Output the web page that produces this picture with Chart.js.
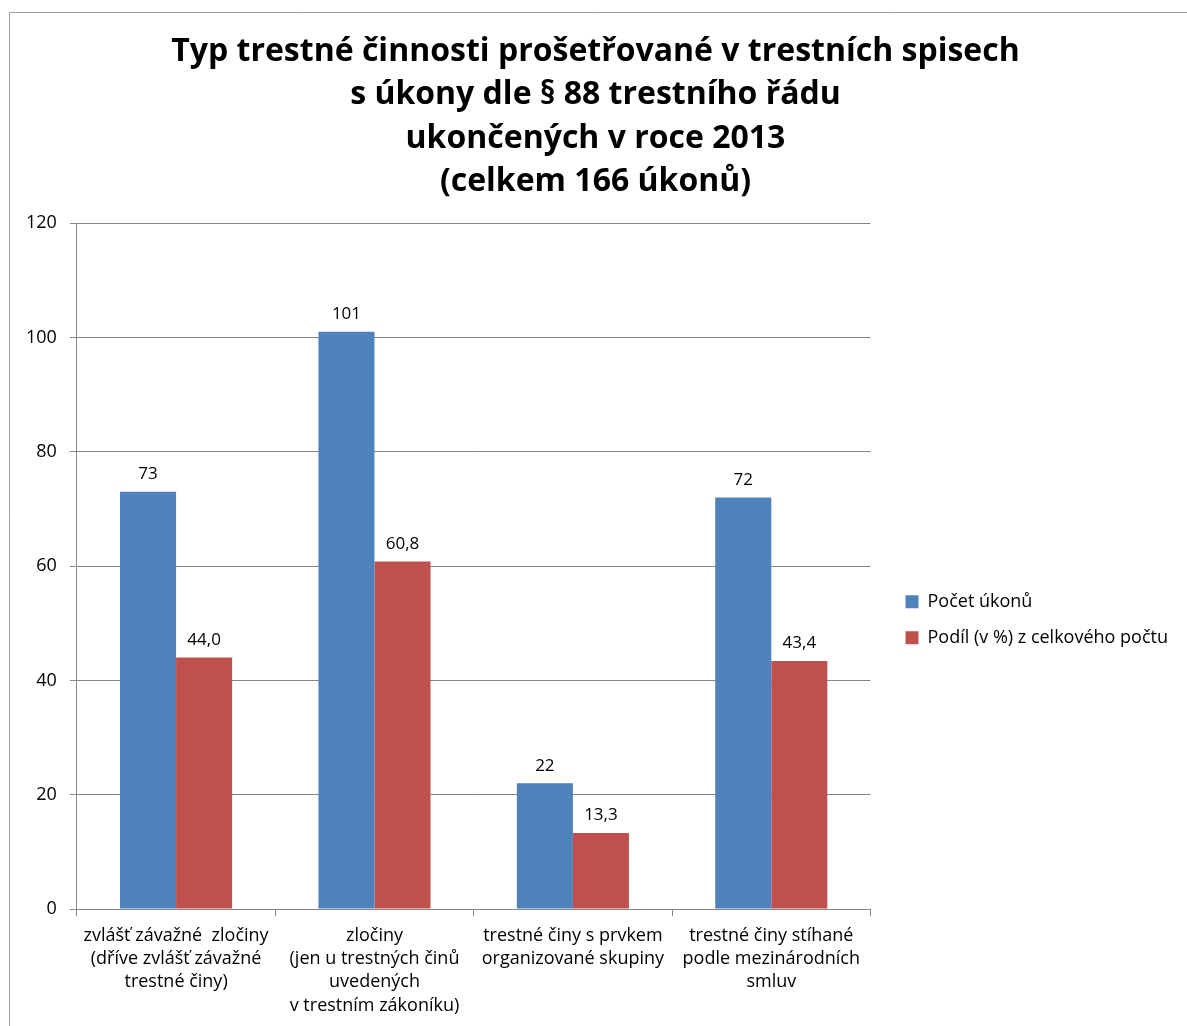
<!DOCTYPE html>
<html>
<head>
<meta charset="utf-8">
<script src="https://cdn.jsdelivr.net/npm/chart.js@4.4.1/dist/chart.umd.min.js"></script>
<style>
  html, body { margin: 0; padding: 0; background: #fff; }
  #wrap { width: 1187px; height: 1026px; position: relative; }
</style>
</head>
<body>
<div id="wrap"><canvas id="chart"></canvas></div>
<script>
const categories = [
    ['zvlášť závažné  zločiny', '(dříve zvlášť závažné', 'trestné činy)'],
    ['zločiny', '(jen u trestných činů', 'uvedených', 'v trestním zákoníku)'],
    ['trestné činy s prvkem', 'organizované skupiny'],
    ['trestné činy stíhané', 'podle mezinárodních', 'smluv']
];
const countValues = [73, 101, 22, 72];
const shareValues = [44.0, 60.8, 13.3, 43.4];
const yTicks = [0, 20, 40, 60, 80, 100, 120];

const FONT = '"Open Sans", sans-serif';

// values above the bars, Czech decimal comma for the share series
const barLabels = {
    id: 'barLabels',
    afterDatasetsDraw(chart) {
        const ctx = chart.ctx;
        ctx.save();
        ctx.font = '17px ' + FONT;
        ctx.fillStyle = '#000';
        ctx.textAlign = 'center';
        ctx.textBaseline = 'bottom';
        chart.data.datasets.forEach((ds, i) => {
            chart.getDatasetMeta(i).data.forEach((bar, j) => {
                const v = ds.data[j];
                const txt = i === 0 ? String(v) : v.toFixed(1).replace('.', ',');
                ctx.fillText(txt, bar.x, bar.y - 9);
            });
        });
        ctx.restore();
    }
};

// thin outer frame (top and left edge of the original chart object)
const frame = {
    id: 'frame',
    beforeDraw(chart) {
        const ctx = chart.ctx;
        ctx.save();
        ctx.strokeStyle = '#a0a0a0';
        ctx.lineWidth = 1;
        ctx.beginPath();
        ctx.moveTo(9.5, chart.height);
        ctx.lineTo(9.5, 12.5);
        ctx.lineTo(chart.width, 12.5);
        ctx.stroke();
        ctx.restore();
    }
};

new Chart(document.getElementById('chart'), {
    type: 'bar',
    data: {
        labels: categories,
        datasets: [
            { label: 'Počet úkonů', data: countValues, backgroundColor: '#4f81bd',
              categoryPercentage: 0.565, barPercentage: 1.0 },
            { label: 'Podíl (v %) z celkového počtu', data: shareValues, backgroundColor: '#c0504d',
              categoryPercentage: 0.565, barPercentage: 1.0 }
        ]
    },
    options: {
        responsive: true,
        maintainAspectRatio: false,
        animation: false,
        layout: { padding: { left: 13, right: 9, top: 0, bottom: 1 } },
        plugins: {
            title: {
                display: true,
                text: [
                    'Typ trestné činnosti prošetřované v trestních spisech',
                    's úkony dle § 88 trestního řádu',
                    'ukončených v roce 2013',
                    '(celkem 166 úkonů)'
                ],
                color: '#000',
                font: { family: FONT, size: 32, weight: 'bold', lineHeight: 1.36 },
                padding: { top: 30, bottom: 19 }
            },
            legend: {
                position: 'right',
                align: 'center',
                maxWidth: 340,
                title: { display: true, text: ' ', padding: { top: 0, bottom: 200 } },
                labels: {
                    color: '#000',
                    font: { family: FONT, size: 18 },
                    boxWidth: 13,
                    boxHeight: 13,
                    padding: 18
                }
            },
            tooltip: { enabled: false }
        },
        scales: {
            x: {
                grid: {
                    display: true,
                    drawOnChartArea: false,
                    drawTicks: true,
                    tickLength: 7,
                    color: '#888'
                },
                border: { color: '#888' },
                ticks: {
                    color: '#000',
                    font: { family: FONT, size: 18, lineHeight: 1.29 },
                    maxRotation: 0,
                    autoSkip: false,
                    padding: 8
                }
            },
            y: {
                min: 0,
                max: 120,
                afterBuildTicks(axis) { axis.ticks = yTicks.map(v => ({ value: v })); },
                grid: { color: '#888', tickLength: 7 },
                border: { color: '#888' },
                ticks: {
                    color: '#000',
                    font: { family: FONT, size: 18 },
                    padding: 13
                }
            },
            // empty spacer between plot and legend
            gap: {
                type: 'linear',
                position: 'right',
                display: true,
                grid: { display: false },
                border: { display: false },
                ticks: { display: false },
                afterFit(scale) { scale.width = 17; }
            }
        }
    },
    plugins: [frame, barLabels]
});
</script>
</body>
</html>
